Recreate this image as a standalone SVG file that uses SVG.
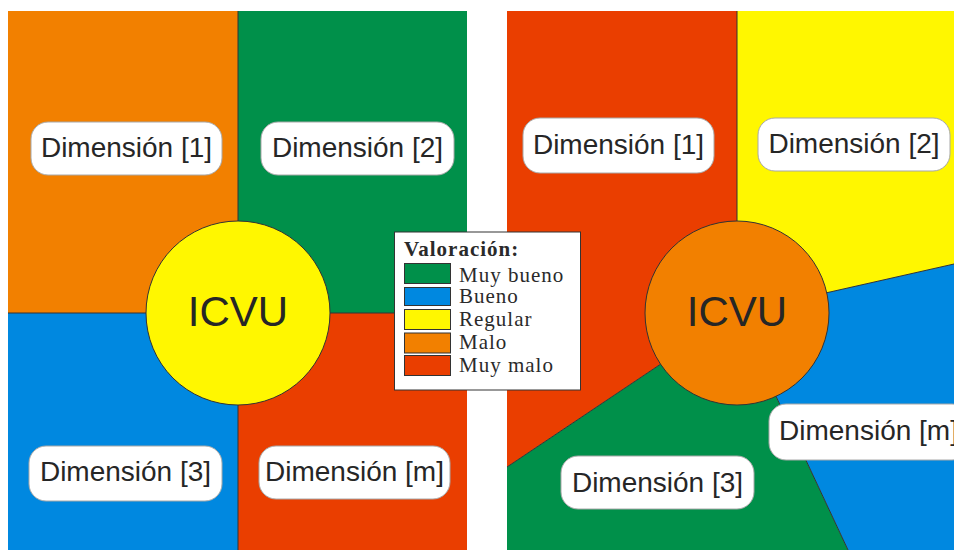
<svg xmlns="http://www.w3.org/2000/svg" width="954" height="550" viewBox="0 0 954 550">
<style>
.lbl rect{fill:#fff;stroke:#a8a8a8;stroke-width:1}
.lbl text{font-family:"Liberation Sans",Arial,sans-serif;font-size:28px;fill:#262626;text-anchor:middle}
.core circle{stroke:#333;stroke-width:1}
.core text{font-family:"Liberation Sans",Arial,sans-serif;font-size:42px;fill:#262626;text-anchor:middle}
.div{stroke:#333;stroke-width:1;fill:none}
.lg text{font-family:"Liberation Serif","Times New Roman",serif;font-size:21px;fill:#2a2a2a;letter-spacing:1px}
.sw{stroke:#333;stroke-width:1}
.o{fill:#F28000}.g{fill:#00904A}.b{fill:#0088E0}.r{fill:#EA3E00}.y{fill:#FFF700}
</style>
<rect width="954" height="550" fill="#fff"/>
<g id="panel-left">
<rect class="o" x="8" y="11" width="230" height="302"/>
<rect class="g" x="238" y="11" width="229" height="302"/>
<rect class="b" x="8" y="313" width="230" height="237"/>
<rect class="r" x="238" y="313" width="229" height="237"/>
</g>
<g id="panel-right">
<polygon class="r" points="737,313 737,11 507,11 507,467"/>
<polygon class="y" points="737,313 737,11 954,11 954,264"/>
<polygon class="b" points="737,313 954,264 954,550 848,550"/>
<polygon class="g" points="737,313 848,550 507,550 507,467"/>
</g>
<g id="connectors">
<line class="div" x1="238" y1="11" x2="238" y2="550"/>
<line class="div" x1="8" y1="313" x2="467" y2="313"/>
<line class="div" x1="737" y1="11" x2="737" y2="313"/>
<line class="div" x1="737" y1="313" x2="954" y2="264"/>
<line class="div" x1="737" y1="313" x2="848" y2="550"/>
<line class="div" x1="737" y1="313" x2="507" y2="467"/>
</g>
<g id="icvu-left" class="core">
<circle class="y" cx="238" cy="313" r="92"/>
<text x="238" y="326">ICVU</text>
</g>
<g id="icvu-right" class="core">
<circle class="o" cx="737" cy="313" r="92"/>
<text x="737" y="326">ICVU</text>
</g>
<g id="left-dim1" class="lbl"><rect x="31" y="122" width="191" height="53" rx="17"/><text x="126.5" y="157">Dimensión [1]</text></g>
<g id="left-dim2" class="lbl"><rect x="261" y="122" width="193" height="53" rx="17"/><text x="357.5" y="157">Dimensión [2]</text></g>
<g id="left-dim3" class="lbl"><rect x="29" y="446" width="193" height="55" rx="17"/><text x="125.5" y="481">Dimensión [3]</text></g>
<g id="left-dimm" class="lbl"><rect x="259" y="446" width="191" height="53" rx="17"/><text x="354.5" y="481">Dimensión [m]</text></g>
<g id="right-dim1" class="lbl"><rect x="523" y="118" width="191" height="55" rx="17"/><text x="618.5" y="154">Dimensión [1]</text></g>
<g id="right-dim2" class="lbl"><rect x="758" y="118" width="192" height="53" rx="17"/><text x="854" y="153">Dimensión [2]</text></g>
<g id="right-dim3" class="lbl"><rect x="561" y="456" width="193" height="53" rx="17"/><text x="657.5" y="492">Dimensión [3]</text></g>
<g id="right-dimm" class="lbl"><rect x="769" y="404" width="200" height="56" rx="17"/><text x="779" y="440" style="text-anchor:start">Dimensión [m]</text></g>
<g id="legend" class="lg">
<rect x="394.5" y="232" width="186" height="158" fill="#fff" stroke="#333" stroke-width="1"/>
<text x="404" y="256" style="font-weight:bold;font-size:21px;letter-spacing:1px">Valoración:</text>
<rect class="sw g" x="404.5" y="263.5" width="46" height="20"/>
<rect class="sw b" x="404.5" y="287.5" width="46" height="18"/>
<rect class="sw y" x="404.5" y="309.5" width="46" height="20"/>
<rect class="sw o" x="404.5" y="333" width="46" height="20"/>
<rect class="sw r" x="404.5" y="355.5" width="46" height="20"/>
<text x="459" y="282">Muy bueno</text>
<text x="459" y="303">Bueno</text>
<text x="459" y="326">Regular</text>
<text x="459" y="349">Malo</text>
<text x="459" y="372">Muy malo</text>
</g>
</svg>
